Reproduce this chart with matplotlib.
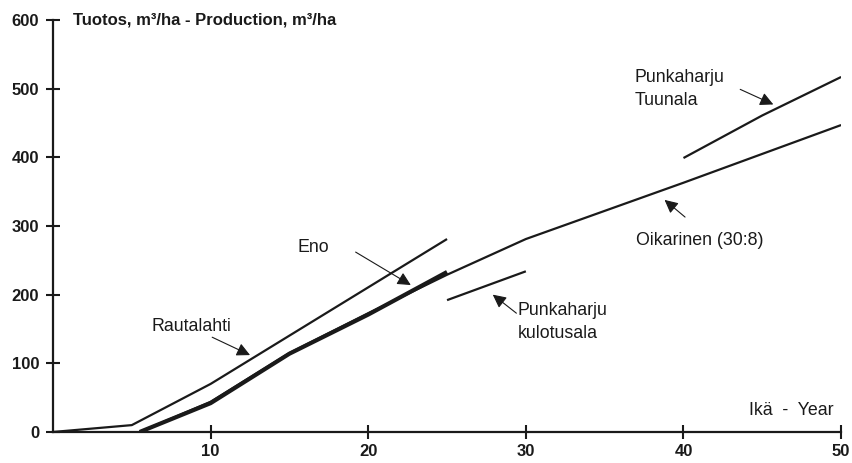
import matplotlib.pyplot as plt

plt.rcParams['font.family'] = ['Liberation Sans', 'DejaVu Sans']

# stand production curves, m3/ha by stand age (years)
rautalahti_age = [0, 5, 10, 25]
rautalahti_prod = [0, 10, 70, 281]

eno_age = [5.5, 10, 15, 20, 25]
eno_prod = [0, 42, 114, 171, 233]

oikarinen_age = [5.5, 10, 15, 20, 25, 30, 40, 50]
oikarinen_prod = [0, 44, 115, 173, 229, 281, 363, 447]

kulotusala_age = [25, 30]
kulotusala_prod = [192, 234]

tuunala_age = [40, 45, 50]
tuunala_prod = [399, 461, 517]

x_ticks = [10, 20, 30, 40, 50]
y_ticks = [0, 100, 200, 300, 400, 500, 600]

ink = '#1a1a1a'

fig = plt.figure(figsize=(8.52, 4.63), dpi=100)
ax = fig.add_axes([0.0622, 0.067, 0.925, 0.8898])

lw = 1.6
ax.plot(rautalahti_age, rautalahti_prod, color=ink, lw=lw, solid_capstyle='butt')
ax.plot(eno_age, eno_prod, color=ink, lw=3.0, solid_capstyle='butt')
ax.plot(oikarinen_age, oikarinen_prod, color=ink, lw=lw, solid_capstyle='butt')
ax.plot(kulotusala_age, kulotusala_prod, color=ink, lw=lw, solid_capstyle='butt')
ax.plot(tuunala_age, tuunala_prod, color=ink, lw=lw, solid_capstyle='butt')

ax.set_xlim(0, 50)
ax.set_ylim(0, 600)
for side in ['top', 'right']:
    ax.spines[side].set_visible(False)
for side in ['left', 'bottom']:
    ax.spines[side].set_linewidth(1.6)
    ax.spines[side].set_color(ink)

ax.set_xticks(x_ticks)
ax.set_yticks(y_ticks)
ax.tick_params(direction='inout', length=10, width=1.5, color=ink,
               labelsize=12, labelcolor=ink)
ax.tick_params(axis='x', pad=4)
ax.tick_params(axis='y', pad=5)
for lab in ax.get_xticklabels() + ax.get_yticklabels():
    lab.set_fontweight('bold')

ax.text(1.3, 600, 'Tuotos, m³/ha - Production, m³/ha', fontsize=12,
        fontweight='bold', ha='left', va='center', color=ink)
ax.text(49.5, 31, 'Ikä  -  Year', fontsize=12.8, ha='right', va='center',
        color=ink)

arrow = dict(arrowstyle='-|>', lw=0.8, color=ink, mutation_scale=20,
             shrinkA=0, shrinkB=0)
txt = dict(fontsize=12.8, color=ink)

ax.annotate('', xy=(12.5, 112), xytext=(10.1, 138), arrowprops=arrow)
ax.text(8.8, 153, 'Rautalahti', ha='center', va='center', **txt)

ax.annotate('', xy=(22.7, 214), xytext=(19.2, 262), arrowprops=arrow)
ax.text(16.5, 269, 'Eno', ha='center', va='center', **txt)

ax.annotate('', xy=(27.9, 200), xytext=(29.4, 173), arrowprops=arrow)
ax.text(29.5, 189, 'Punkaharju\nkulotusala', ha='left', va='top',
        linespacing=1.45, **txt)

ax.annotate('', xy=(45.7, 477), xytext=(43.6, 499), arrowprops=arrow)
ax.text(36.9, 499, 'Punkaharju\nTuunala', ha='left', va='center',
        linespacing=1.45, **txt)

ax.annotate('', xy=(38.8, 338), xytext=(40.1, 313), arrowprops=arrow)
ax.text(37.0, 279, 'Oikarinen (30:8)', ha='left', va='center', **txt)

fig.savefig('out.png', dpi=100)
